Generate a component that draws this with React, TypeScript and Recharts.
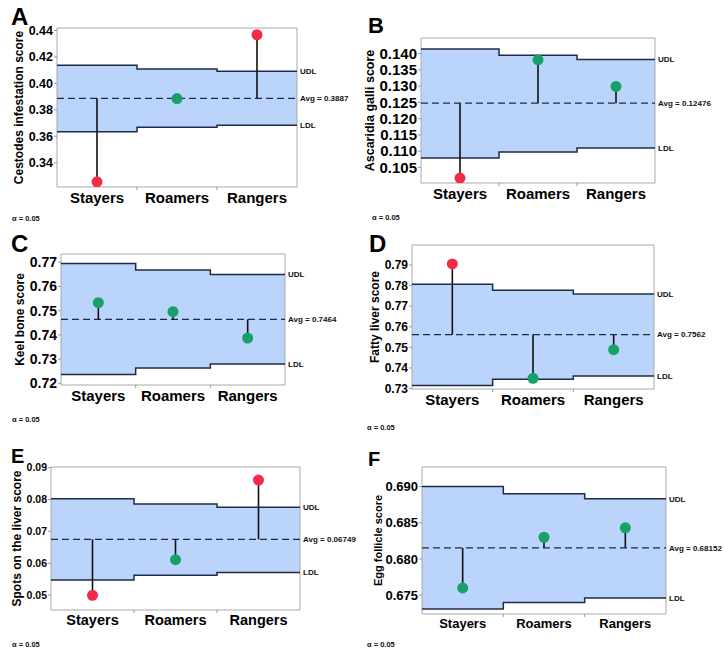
import React from "react";
import { ComposedChart, Area, Line, Scatter, XAxis, YAxis, ReferenceLine, ReferenceArea } from "recharts";

const groups = ["Stayers", "Roamers", "Rangers"];

// A - cestodes
const cestodesMeans = [0.3256, 0.3885, 0.4367];
const cestodesUdl = [0.4136, 0.4109, 0.4091];
const cestodesLdl = [0.3634, 0.3668, 0.3683];
const cestodesAvg = 0.3887;
const cestodesTicks = [0.34, 0.36, 0.38, 0.4, 0.42, 0.44];

// B - ascaridia
const ascaridiaMeans = [0.1017, 0.1381, 0.1299];
const ascaridiaUdl = [0.1414, 0.1395, 0.1382];
const ascaridiaLdl = [0.1079, 0.1097, 0.111];
const ascaridiaAvg = 0.12476;
const ascaridiaTicks = [0.105, 0.11, 0.115, 0.12, 0.125, 0.13, 0.135, 0.14];

// C - keel bone
const keelMeans = [0.7533, 0.7496, 0.7387];
const keelUdl = [0.7695, 0.7668, 0.7649];
const keelLdl = [0.7236, 0.7263, 0.728];
const keelAvg = 0.7464;
const keelTicks = [0.72, 0.73, 0.74, 0.75, 0.76, 0.77];

// D - fatty liver
const fattyMeans = [0.7905, 0.735, 0.7489];
const fattyUdl = [0.7806, 0.7777, 0.7759];
const fattyLdl = [0.7315, 0.7345, 0.7361];
const fattyAvg = 0.7562;
const fattyTicks = [0.73, 0.74, 0.75, 0.76, 0.77, 0.78, 0.79];

// E - liver spots
const spotsMeans = [0.0499, 0.0611, 0.0861];
const spotsUdl = [0.0802, 0.0786, 0.0776];
const spotsLdl = [0.0547, 0.0562, 0.0571];
const spotsAvg = 0.06749;
const spotsTicks = [0.05, 0.06, 0.07, 0.08, 0.09];

// F - egg follicle
const follicleMeans = [0.676, 0.683, 0.6843];
const follicleUdl = [0.69, 0.689, 0.6883];
const follicleLdl = [0.6731, 0.674, 0.6746];
const follicleAvg = 0.68152;
const follicleTicks = [0.675, 0.68, 0.685, 0.69];

const FONT = "'Liberation Sans', Arial, sans-serif";
const BAND = "#bad4fb";
const EDGE = "#1f2b45";
const RED = "#f32c45";
const GREEN = "#17a068";

const panels = [
  { id: "A", ylabel: "Cestodes infestation score", means: cestodesMeans, udl: cestodesUdl, ldl: cestodesLdl, avg: cestodesAvg, ticks: cestodesTicks, domain: [0.3217, 0.4418], dec: 2,
    left: 0, top: 0, width: 362, height: 217, mTop: 28, mRight: 65, yW: 57, tickFs: 12.5, catFs: 15, labFs: 12, labOff: 19 },
  { id: "B", ylabel: "Ascaridia galli score", means: ascaridiaMeans, udl: ascaridiaUdl, ldl: ascaridiaLdl, avg: ascaridiaAvg, ticks: ascaridiaTicks, domain: [0.1002, 0.1448], dec: 3,
    left: 362, top: 0, width: 362, height: 213, mTop: 38, mRight: 69, yW: 59, tickFs: 15, catFs: 15, labFs: 12.5, labOff: 8 },
  { id: "C", ylabel: "Keel bone score", means: keelMeans, udl: keelUdl, ldl: keelLdl, avg: keelAvg, ticks: keelTicks, domain: [0.7193, 0.7734], dec: 2,
    left: 0, top: 222, width: 362, height: 193, mTop: 32, mRight: 77, yW: 61, tickFs: 14, catFs: 15, labFs: 12, labOff: 20 },
  { id: "D", ylabel: "Fatty liver score", means: fattyMeans, udl: fattyUdl, ldl: fattyLdl, avg: fattyAvg, ticks: fattyTicks, domain: [0.7298, 0.7997], dec: 2,
    left: 362, top: 222, width: 362, height: 197, mTop: 23, mRight: 70, yW: 50, tickFs: 12, catFs: 15, labFs: 12, labOff: 13 },
  { id: "E", ylabel: "Spots on the liver score", means: spotsMeans, udl: spotsUdl, ldl: spotsLdl, avg: spotsAvg, ticks: spotsTicks, domain: [0.0453, 0.0902], dec: 2,
    left: 0, top: 444, width: 362, height: 196, mTop: 23, mRight: 62, yW: 51, tickFs: 10.5, catFs: 14.5, labFs: 12, labOff: 17 },
  { id: "F", ylabel: "Egg follicle score", means: follicleMeans, udl: follicleUdl, ldl: follicleLdl, avg: follicleAvg, ticks: follicleTicks, domain: [0.6724, 0.6927], dec: 3,
    left: 362, top: 444, width: 362, height: 200, mTop: 23, mRight: 58, yW: 60, tickFs: 13, catFs: 13, labFs: 11, labOff: 16 },
];

const letters = [
  { t: "A", x: 11, y: 5, fs: 24 },
  { t: "B", x: 368, y: 15, fs: 22 },
  { t: "C", x: 11, y: 232, fs: 24 },
  { t: "D", x: 369, y: 232, fs: 24 },
  { t: "E", x: 11, y: 446, fs: 20 },
  { t: "F", x: 368, y: 449, fs: 20 },
];

const alphas = [
  { x: 12, y: 215 },
  { x: 372, y: 214 },
  { x: 12, y: 416 },
  { x: 367, y: 424 },
  { x: 12, y: 641 },
  { x: 367, y: 641 },
];

function CategoryTick(props: any) {
  const { x, y, payload, fontSize } = props;
  const v = payload.value;
  if (Number.isInteger(v)) {
    return <line x1={x} x2={x} y1={y - 5} y2={y - 2} stroke="#999" strokeWidth={1} />;
  }
  return (
    <text x={x} y={y} dy="0.72em" textAnchor="middle" fill="#000" fontSize={fontSize} fontWeight={700} fontFamily={FONT}>
      {groups[Math.floor(v)]}
    </text>
  );
}

function AnomPanel({ p }: { p: any }) {
  const band = groups.map((g, i) => ({ x: i, udl: p.udl[i], ldl: p.ldl[i] }));
  band.push({ x: 3, udl: p.udl[2], ldl: p.ldl[2] });
  const points = groups.map((g, i) => ({
    x: i + 0.5,
    y: p.means[i],
    out: p.means[i] > p.udl[i] || p.means[i] < p.ldl[i],
  }));
  const sideLabel = (value: string) => ({ value, position: "right" as const, offset: 3, fill: "#111", fontSize: 8, fontWeight: 700, fontFamily: FONT });

  return (
    <div style={{ position: "absolute", left: p.left, top: p.top }}>
      <ComposedChart width={p.width} height={p.height} data={band} margin={{ top: p.mTop, right: p.mRight, bottom: 0, left: 0 }}>
        <XAxis
          type="number"
          dataKey="x"
          domain={[0, 3]}
          allowDataOverflow
          ticks={[0.5, 1, 1.5, 2, 2.5]}
          interval={0}
          axisLine={false}
          tickLine={false}
          tickSize={0}
          tickMargin={5}
          height={30}
          tick={<CategoryTick fontSize={p.catFs} />}
        />
        <YAxis
          type="number"
          domain={p.domain}
          allowDataOverflow
          ticks={p.ticks}
          interval={0}
          width={p.yW}
          tickFormatter={(v: number) => v.toFixed(p.dec)}
          axisLine={false}
          tickLine={{ stroke: "#999" }}
          tickSize={3}
          tickMargin={1}
          tick={{ fill: "#000", fontSize: p.tickFs, fontWeight: 700, fontFamily: FONT }}
          label={{
            value: p.ylabel,
            angle: -90,
            position: "insideLeft",
            offset: p.labOff,
            style: { textAnchor: "middle", fontSize: p.labFs, fontWeight: 700, fill: "#000", fontFamily: FONT },
          }}
        />
        <Area dataKey={(d: any) => [d.ldl, d.udl]} type="stepAfter" fill={BAND} fillOpacity={1} stroke="none" isAnimationActive={false} />
        <Line dataKey="udl" type="stepAfter" stroke={EDGE} strokeWidth={1.5} dot={false} isAnimationActive={false} />
        <Line dataKey="ldl" type="stepAfter" stroke={EDGE} strokeWidth={1.5} dot={false} isAnimationActive={false} />
        <ReferenceArea x1={0} x2={3} y1={p.domain[0]} y2={p.domain[1]} fill="none" stroke="#a9a9a9" strokeWidth={1} />
        <ReferenceLine y={p.avg} stroke={EDGE} strokeDasharray="7 4" strokeWidth={1.3} label={sideLabel(`Avg = ${p.avg}`)} />
        <ReferenceLine y={p.udl[2]} stroke="none" label={sideLabel("UDL")} />
        <ReferenceLine y={p.ldl[2]} stroke="none" label={sideLabel("LDL")} />
        {p.means.map((m: number, i: number) => (
          <ReferenceLine
            key={i}
            segment={[{ x: i + 0.5, y: p.avg }, { x: i + 0.5, y: m }]}
            stroke="#111"
            strokeWidth={1.6}
          />
        ))}
        <Scatter
          data={points}
          dataKey="y"
          isAnimationActive={false}
          shape={(s: any) => <circle cx={s.cx} cy={s.cy} r={5.5} fill={s.payload.out ? RED : GREEN} />}
        />
      </ComposedChart>
    </div>
  );
}

export default function App() {
  return (
    <div style={{ position: "absolute", left: 0, top: 0, width: 724, height: 666, background: "#fff", fontFamily: FONT }}>
      {panels.map((p) => (
        <AnomPanel key={p.id} p={p} />
      ))}
      {letters.map((l) => (
        <div key={l.t} style={{ position: "absolute", left: l.x, top: l.y, fontSize: l.fs, lineHeight: 1, fontWeight: 900, color: "#000" }}>
          {l.t}
        </div>
      ))}
      {alphas.map((a, i) => (
        <div key={i} style={{ position: "absolute", left: a.x, top: a.y, fontSize: 7.5, lineHeight: 1, fontWeight: 700, color: "#111" }}>
          α = 0.05
        </div>
      ))}
    </div>
  );
}
